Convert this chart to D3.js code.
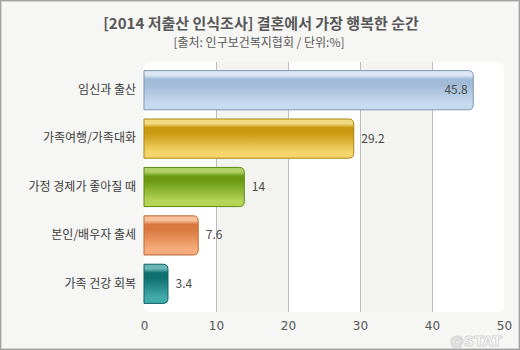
<!DOCTYPE html>
<html>
<head>
<meta charset="utf-8">
<script src="https://cdn.jsdelivr.net/npm/d3@7"></script>
<style>
  html, body { margin: 0; padding: 0; background: #fff; }
  svg { display: block; font-family: "Noto Sans CJK KR", "DejaVu Sans", sans-serif; }
</style>
</head>
<body>
<svg id="chart" width="520" height="350"></svg>
<script>
// Survey: happiest moments in married life (%)
const categories = ["임신과 출산", "가족여행/가족대화", "가정 경제가 좋아질 때", "본인/배우자 출세", "가족 건강 회복"];
const values = [45.8, 29.2, 14, 7.6, 3.4];
const tickValues = [0, 10, 20, 30, 40, 50];
const titleText = "[2014 저출산 인식조사] 결혼에서 가장 행복한 순간";
const subtitleText = "[출처: 인구보건복지협회 / 단위:%]";

// glossy colour stops per bar: [border, highlight, dark, bottom]
const palettes = [
  ["#7c97b6", "#dbe7f4", "#a0bad7", "#c7dbef"],
  ["#a9840e", "#f2da80", "#c8980e", "#f6d66c"],
  ["#5b8a12", "#b0d068", "#6b9a12", "#b4d456"],
  ["#bd6a38", "#f7c09a", "#d8783e", "#f6ac7c"],
  ["#0c6163", "#68b6b6", "#0f7070", "#44aaaa"]
];

const W = 520, H = 350;
const svg = d3.select("#chart");
const defs = svg.append("defs");

// background and frame
svg.append("rect").attr("x", 0).attr("y", 0).attr("width", W).attr("height", H).attr("fill", "#f6f6f4");
svg.append("rect").attr("x", 0.5).attr("y", 0.5).attr("width", W - 1).attr("height", H - 1)
  .attr("fill", "none").attr("stroke", "#a3a3a3").attr("stroke-width", 1);
svg.append("rect").attr("x", 1.5).attr("y", 1.5).attr("width", W - 3).attr("height", H - 3)
  .attr("fill", "none").attr("stroke", "#d4d4d4").attr("stroke-width", 1);

// titles
svg.append("text").attr("x", 261).attr("y", 29).attr("text-anchor", "middle")
  .attr("font-size", 15).attr("font-weight", "bold").attr("fill", "#585858").text(titleText);
svg.append("text").attr("x", 259).attr("y", 47).attr("text-anchor", "middle")
  .attr("font-size", 12).attr("fill", "#5a5a5a").text(subtitleText);

const plot = { left: 144, right: 504, top: 62, bottom: 312 };

const x = d3.scaleLinear().domain([0, 50]).range([plot.left, plot.right]);
const y = d3.scaleBand().domain(categories).range([66, 308]).paddingInner(0.17).paddingOuter(0.085);

// plot area clipped to a rounded rectangle
defs.append("clipPath").attr("id", "plotClip").append("rect")
  .attr("x", plot.left).attr("y", plot.top)
  .attr("width", plot.right - plot.left).attr("height", plot.bottom - plot.top)
  .attr("rx", 6).attr("ry", 6);

const area = svg.append("g").attr("clip-path", "url(#plotClip)");

// alternating column bands
const bands = d3.pairs(tickValues);
area.selectAll("rect.band").data(bands).join("rect")
  .attr("class", "band")
  .attr("x", d => x(d[0])).attr("y", plot.top)
  .attr("width", d => x(d[1]) - x(d[0])).attr("height", plot.bottom - plot.top)
  .attr("fill", (d, i) => i % 2 === 0 ? "#ffffff" : "#f3f3ef");

// vertical gridlines
area.selectAll("line.grid").data(tickValues.slice(1, -1)).join("line")
  .attr("class", "grid")
  .attr("x1", d => Math.round(x(d)) + 0.5).attr("x2", d => Math.round(x(d)) + 0.5)
  .attr("y1", plot.top).attr("y2", plot.bottom)
  .attr("stroke", "#bdbdbd").attr("stroke-width", 1);

// glossy gradients
palettes.forEach((p, i) => {
  const g = defs.append("linearGradient").attr("id", "grad" + i)
    .attr("x1", 0).attr("y1", 0).attr("x2", 0).attr("y2", 1);
  [[0, p[1]], [0.12, p[1]], [0.22, p[2]], [0.35, p[2]], [0.85, p[3]], [1, p[3]]]
    .forEach(([o, c]) => g.append("stop").attr("offset", o).attr("stop-color", c));
});

// bars: flat at the axis, rounded at the value end
const r = 5;
function barPath(d) {
  const y0 = y(d.cat) + 0.5, h = y.bandwidth() - 1;
  const x0 = x(0), x1 = x(d.val) - 0.5;
  return `M${x0},${y0} H${x1 - r} Q${x1},${y0} ${x1},${y0 + r} V${y0 + h - r} Q${x1},${y0 + h} ${x1 - r},${y0 + h} H${x0} Z`;
}
const data = categories.map((c, i) => ({ cat: c, val: values[i], i }));

svg.append("g").selectAll("path.bar").data(data).join("path")
  .attr("class", "bar")
  .attr("d", barPath)
  .attr("fill", d => `url(#grad${d.i})`)
  .attr("stroke", d => palettes[d.i][0]).attr("stroke-width", 1);

// value labels: inside the bar if it reaches near the end, otherwise outside
svg.append("g").selectAll("text.val").data(data).join("text")
  .attr("class", "val")
  .attr("x", d => d.val > 40 ? x(d.val) - 6 : x(d.val) + 7)
  .attr("y", d => y(d.cat) + y.bandwidth() / 2 + 4)
  .attr("text-anchor", d => d.val > 40 ? "end" : "start")
  .attr("font-size", 12).attr("fill", "#4a4a4a")
  .text(d => d.val);

// category axis
const yAxis = svg.append("g").attr("transform", `translate(${plot.left - 8},0)`)
  .call(d3.axisLeft(y).tickSize(0).tickPadding(0));
yAxis.select(".domain").remove();
yAxis.selectAll("text").attr("font-size", 12).attr("fill", "#3c3c3c")
  .attr("font-family", "Noto Sans CJK KR, DejaVu Sans, sans-serif");

// value axis
const xAxis = svg.append("g").attr("transform", `translate(0,${plot.bottom})`)
  .call(d3.axisBottom(x).tickValues(tickValues).tickSize(0).tickPadding(9).tickFormat(d3.format("d")));
xAxis.select(".domain").remove();
xAxis.selectAll("text").attr("font-size", 12).attr("fill", "#555")
  .attr("font-family", "DejaVu Sans, sans-serif");

// watermark in the bottom-right corner, below the axis labels
svg.append("text").attr("x", 476).attr("y", 346).attr("text-anchor", "middle")
  .attr("font-size", 14).attr("font-weight", "bold").attr("font-family", "DejaVu Sans, sans-serif")
  .attr("fill", "#ffffff").attr("stroke", "#cfcfcf").attr("stroke-width", 1)
  .attr("opacity", 0.8).text("@STAT");
</script>
</body>
</html>
